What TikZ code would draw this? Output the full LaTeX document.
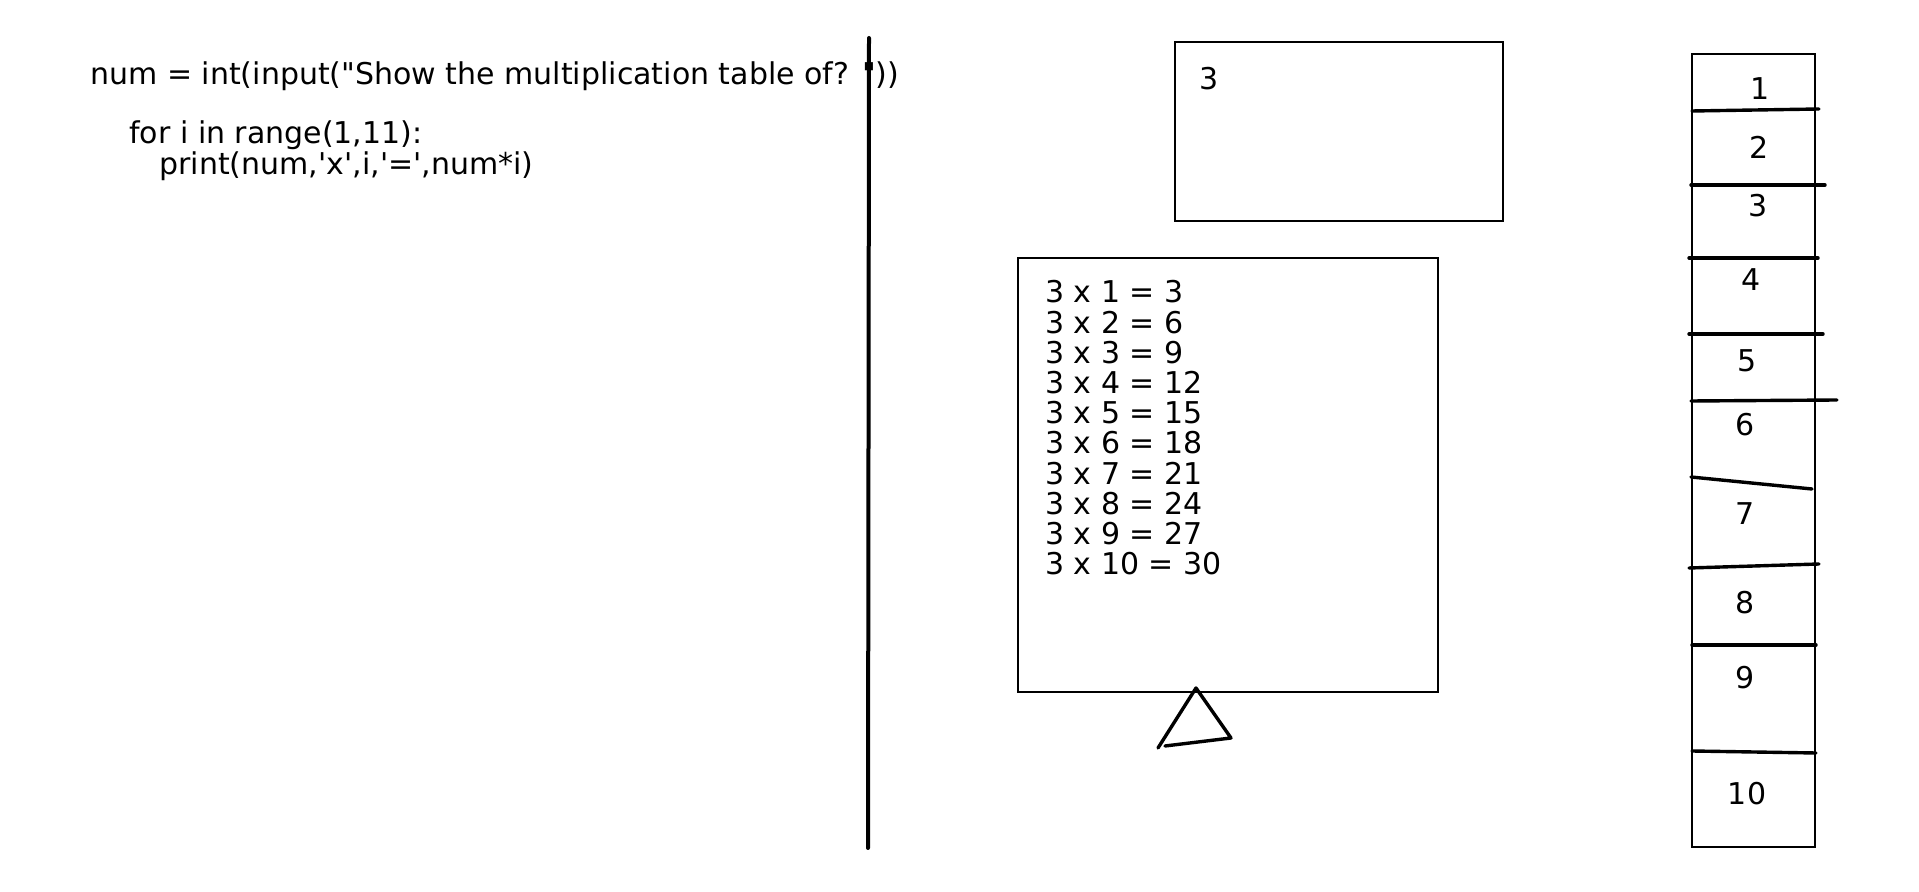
\documentclass[tikz,border=0pt]{standalone}
\usepackage{fontspec}
\setmainfont{DejaVu Sans}[Ligatures=TeXOff]

\tikzset{
  sketch/.style={line width=1.7pt, line cap=round, line join=round},
  frame/.style={draw, line width=0.8pt},
  txt/.style={inner sep=0pt, anchor=base west, font=\fontsize{15}{15}\selectfont},
  cell/.style={inner sep=0pt, font=\fontsize{15}{15}\selectfont}
}

\begin{document}
\begin{tikzpicture}[x=0.5pt,y=-0.5pt]
  \useasboundingbox (0,0) rectangle (1919,892);

  % Programa
  \node[txt] (code1) at (90,85) {num = int(input("Show the multiplication table of? "))};
  \node[txt] (code2) at (129,144) {for i in range(1,11):};
  \node[txt] (code3) at (159,175) {print(num,'x',i,'=',num*i)};

  % Separador
  \draw[sketch, line width=2pt] (869,38) -- (868,848);

  % Entrada
  \draw[frame] (1175,42) rectangle (1503,221);
  \node[txt] (inval) at (1199,90) {3};

  % Salida
  \draw[frame] (1018,258) rectangle (1438,692);
  \foreach \i [evaluate=\i as \res using int(3*\i)] in {1,...,10}
    \node[txt] (row\i) at (1045,{303+30.2*(\i-1)}) {3 x \i{} = \res};

  % Triangulo
  \draw[sketch] (1158,748) -- (1196,688) -- (1231,738) -- (1165,746);

  % Columna de iteraciones
  \draw[frame] (1692,54) rectangle (1815,847);
  \foreach \xa/\ya/\xb/\yb in {1692/111/1819/109, 1691/185/1825/185, 1689/258/1818/258,
      1689/334/1823/334, 1691/401/1837/400, 1691/477/1812/489, 1689/568/1819/564,
      1692/645/1816/645, 1692/751/1816/753}
    \draw[sketch] (\xa,\ya) -- (\xb,\yb);
  \foreach \n/\x/\y in {1/1760/89, 2/1759/147, 3/1758/206, 4/1751/280, 5/1747/361,
      6/1745/425, 7/1745/514, 8/1745/603, 9/1745/678, 10/1747/794}
    \node[cell] (it\n) at (\x,\y) {\n};
\end{tikzpicture}
\end{document}
